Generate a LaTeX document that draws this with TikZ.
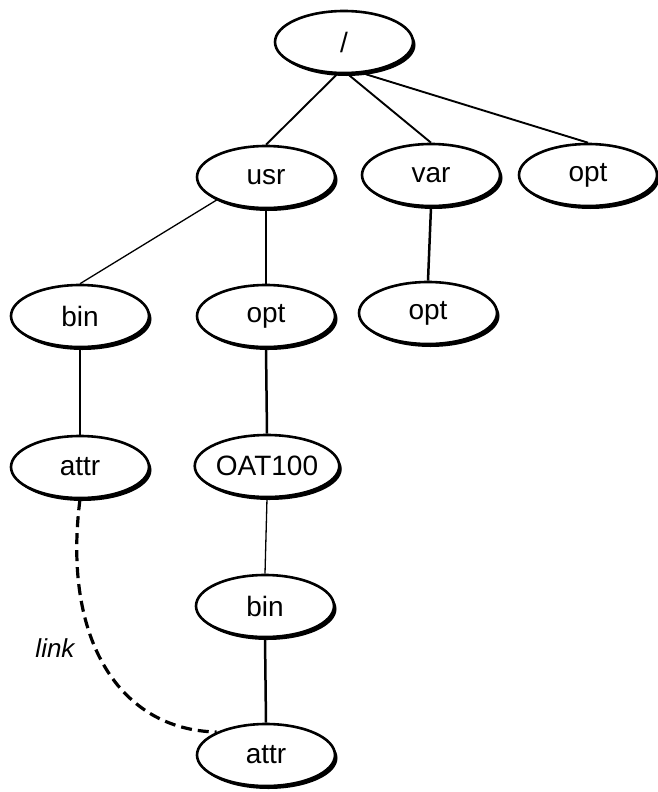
\documentclass[tikz,border=0pt]{standalone}
\usepackage{fontspec}
\setmainfont{Liberation Sans}
\usetikzlibrary{shapes.geometric,shadows}

\tikzset{
  dirnode/.style={ellipse, draw=black, fill=white, line width=2.6pt,
    minimum width=138pt, minimum height=62pt, inner sep=0pt,
    font=\fontsize{28}{30}\selectfont,
    drop shadow={shadow xshift=2.5pt, shadow yshift=-3pt, fill=black, opacity=1}},
  thinedge/.style={line width=1.3pt},
  midedge/.style={line width=1.9pt},
  thickedge/.style={line width=2.5pt},
  linkedge/.style={line width=3.2pt, dash pattern=on 11pt off 6pt},
}

\begin{document}
\begin{tikzpicture}[x=1pt,y=-1pt]
  \useasboundingbox (0,0) rectangle (657,792);

  % directory tree
  \node[dirnode] (root)  at (344,42)  {/};
  \node[dirnode] (usr)   at (266,177) {usr};
  \node[dirnode] (var)   at (431,175) {var};
  \node[dirnode] (optR)  at (588,175) {opt};
  \node[dirnode] (binL)  at (80,316)  {bin};
  \node[dirnode] (optM)  at (266,316) {opt};
  \node[dirnode] (optV)  at (428,313) {opt};
  \node[dirnode] (attrL) at (80,467)  {attr};
  \node[dirnode] (oat)   at (267,466) {OAT100};
  \node[dirnode] (binM)  at (265,606) {bin};
  \node[dirnode] (attrM) at (266,755) {attr};

  % connectors
  \draw[midedge] ([xshift=-7pt]root.south) -- (usr.north);
  \draw[midedge] ([xshift=4pt]root.south) -- (var.north);
  \draw[midedge] ([xshift=22pt]root.south) -- (optR.north);
  \draw[thinedge] (usr.205) -- (binL.north);
  \draw[thinedge] (usr.south) -- (optM.north);
  \draw[thickedge] (var.south) -- (optV.north);
  \draw[thinedge] (binL.south) -- (attrL.north);
  \draw[thickedge] (optM.south) -- (oat.north);
  \draw[thinedge] (oat.south) -- (binM.north);
  \draw[thickedge] (binM.south) -- (attrM.north);

  % symbolic link
  \draw[linkedge] (attrL.south) .. controls (62,640) and (120,730) .. (attrM.155);
  \node[font=\fontsize{26}{28}\selectfont\itshape] (linklbl) at (55,648) {link};
\end{tikzpicture}
\end{document}
